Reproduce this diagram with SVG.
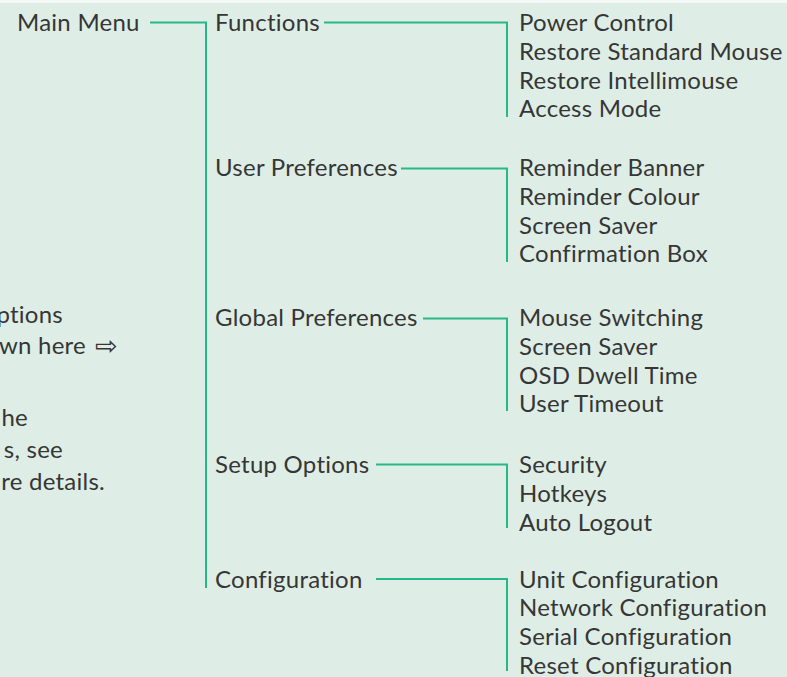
<svg xmlns="http://www.w3.org/2000/svg" width="787" height="677" viewBox="0 0 787 677">
<style>
text{font-family:Lato,"Open Sans","Liberation Sans","DejaVu Sans",sans-serif;font-size:24px;font-weight:400;letter-spacing:0.25px;fill:#363636}
.a{font-family:"DejaVu Sans",sans-serif;font-size:27px;letter-spacing:0}
.c{fill:none;stroke:#26b88a;stroke-width:2}
</style>
<rect x="0" y="0" width="787" height="677" fill="#f4f8f6"/>
<rect x="0" y="3" width="787" height="674" fill="#deeee6"/>
<g id="note">
<text x="63" y="323" text-anchor="end">ptions</text>
<text x="86" y="354" text-anchor="end">wn here</text>
<text class="a" x="95" y="355">⇨</text>
<text x="28" y="426" text-anchor="end">he</text>
<text x="63" y="458" text-anchor="end">s, see</text>
<text x="105" y="490" text-anchor="end">re details.</text>
</g>
<g id="connectors">
<path class="c" d="M150 22.5H206V588"/>
<path class="c" d="M324 22.5H507V117"/>
<path class="c" d="M401 168.5H507V262"/>
<path class="c" d="M423 318.5H507V411"/>
<path class="c" d="M376 464.5H507V528"/>
<path class="c" d="M376 579H507V671"/>
</g>
<g id="main-menu"><text x="17" y="31">Main Menu</text></g>
<g id="functions">
<text x="215" y="31">Functions</text>
</g>
<g id="functions-items">
<text x="519" y="31">Power Control</text>
<text x="519" y="59.8">Restore Standard Mouse</text>
<text x="519" y="88.6">Restore Intellimouse</text>
<text x="519" y="117.4">Access Mode</text>
</g>
<g id="user-preferences">
<text x="215" y="176">User Preferences</text>
</g>
<g id="user-preferences-items">
<text x="519" y="176">Reminder Banner</text>
<text x="519" y="204.8">Reminder Colour</text>
<text x="519" y="233.6">Screen Saver</text>
<text x="519" y="262.4">Confirmation Box</text>
</g>
<g id="global-preferences">
<text x="215" y="326">Global Preferences</text>
</g>
<g id="global-preferences-items">
<text x="519" y="326">Mouse Switching</text>
<text x="519" y="354.8">Screen Saver</text>
<text x="519" y="383.6">OSD Dwell Time</text>
<text x="519" y="412.4">User Timeout</text>
</g>
<g id="setup-options">
<text x="215" y="473">Setup Options</text>
</g>
<g id="setup-options-items">
<text x="519" y="473">Security</text>
<text x="519" y="501.8">Hotkeys</text>
<text x="519" y="530.6">Auto Logout</text>
</g>
<g id="configuration">
<text x="215" y="587.5">Configuration</text>
</g>
<g id="configuration-items">
<text x="519" y="587.5">Unit Configuration</text>
<text x="519" y="616.3">Network Configuration</text>
<text x="519" y="645.1">Serial Configuration</text>
<text x="519" y="673.9">Reset Configuration</text>
</g>
</svg>
